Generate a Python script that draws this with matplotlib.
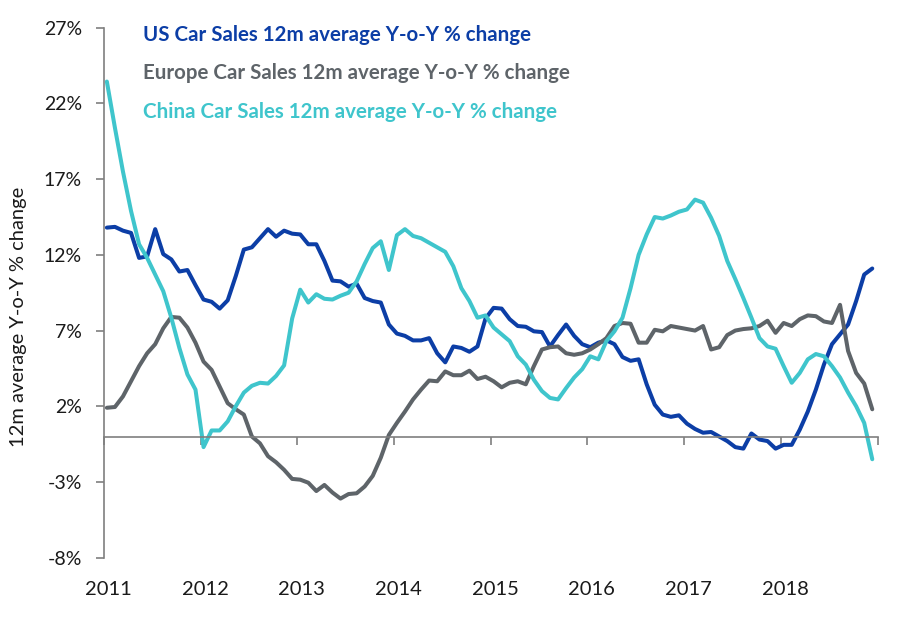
import numpy as np
import matplotlib
matplotlib.use("Agg")
import matplotlib.pyplot as plt
from matplotlib.ticker import FuncFormatter

# monthly, Jan 2011 .. Dec 2018 (12m average y-o-y % change)
years = ['2011', '2012', '2013', '2014', '2015', '2016', '2017', '2018']

us = [13.8, 13.85, 13.6, 13.45, 11.8, 11.9, 13.7, 12.05, 11.7, 10.9, 11.0, 10.0,
      9.05, 8.9, 8.45, 9.0, 10.6, 12.35, 12.5, 13.1, 13.7, 13.2, 13.6, 13.4,
      13.35, 12.7, 12.7, 11.6, 10.3, 10.25, 9.9, 10.1, 9.15, 8.95, 8.85, 7.4,
      6.8, 6.65, 6.35, 6.35, 6.5, 5.5, 4.9, 5.95, 5.85, 5.6, 5.95, 7.8,
      8.5, 8.45, 7.75, 7.3, 7.25, 6.95, 6.9, 5.95, 6.7, 7.4, 6.65, 6.1,
      5.9, 6.2, 6.35, 6.1, 5.25, 5.0, 5.1, 3.45, 2.1, 1.45, 1.3, 1.4,
      0.85, 0.5, 0.25, 0.3, 0.0, -0.3, -0.7, -0.8, 0.2, -0.2, -0.3, -0.8,
      -0.55, -0.55, 0.45, 1.65, 3.1, 4.75, 6.1, 6.75, 7.4, 8.95, 10.7, 11.1]

europe = [1.9, 1.95, 2.65, 3.65, 4.65, 5.5, 6.1, 7.15, 7.9, 7.85, 7.2, 6.2,
          4.95, 4.4, 3.3, 2.2, 1.8, 1.45, 0.0, -0.45, -1.3, -1.7, -2.2, -2.8,
          -2.85, -3.05, -3.6, -3.2, -3.7, -4.1, -3.8, -3.75, -3.3, -2.6, -1.4, 0.1,
          0.9, 1.65, 2.45, 3.1, 3.7, 3.65, 4.3, 4.05, 4.05, 4.35, 3.8, 3.95,
          3.65, 3.25, 3.55, 3.65, 3.45, 4.65, 5.75, 5.9, 5.95, 5.5, 5.4, 5.5,
          5.75, 6.1, 6.5, 7.3, 7.5, 7.45, 6.2, 6.2, 7.05, 6.95, 7.3, 7.2,
          7.1, 7.0, 7.3, 5.75, 5.9, 6.7, 7.0, 7.1, 7.15, 7.3, 7.65, 6.85,
          7.5, 7.3, 7.75, 8.0, 7.95, 7.6, 7.5, 8.7, 5.65, 4.2, 3.5, 1.8]

china = [23.45, 20.4, 17.5, 14.9, 12.7, 11.8, 10.7, 9.6, 7.85, 5.85, 4.1, 3.1,
         -0.7, 0.4, 0.4, 1.0, 2.0, 2.9, 3.35, 3.55, 3.5, 4.0, 4.7, 7.8,
         9.7, 8.85, 9.4, 9.1, 9.05, 9.3, 9.5, 10.25, 11.4, 12.45, 12.9, 11.0,
         13.3, 13.7, 13.25, 13.1, 12.8, 12.5, 12.2, 11.25, 9.8, 8.95, 7.85, 8.0,
         7.2, 6.75, 6.3, 5.3, 4.75, 3.75, 3.0, 2.55, 2.45, 3.2, 3.9, 4.45,
         5.3, 5.1, 6.3, 6.95, 7.85, 9.8, 12.0, 13.35, 14.5, 14.4, 14.6, 14.85,
         15.0, 15.65, 15.45, 14.45, 13.25, 11.6, 10.4, 9.15, 7.85, 6.5, 5.95, 5.8,
         4.65, 3.55, 4.2, 5.1, 5.45, 5.3, 4.65, 3.9, 2.9, 2.0, 0.9, -1.5]

US_COL = '#0C3EA6'
EU_COL = '#5E6469'
CN_COL = '#3FC5CC'
AXIS_COL = '#7F7F7F'
TXT_COL = '#1a1a1a'

plt.rcParams['font.family'] = ['Lato', 'DejaVu Sans']

fig = plt.figure(figsize=(9, 6.18), dpi=100)
ax = fig.add_axes([0.1156, 0.0977, 0.8594, 0.8573])

x = np.arange(len(us))
ax.plot(x, us, color=US_COL, lw=2.9, solid_capstyle='round',
        label='US Car Sales 12m average Y-o-Y % change')
ax.plot(x, europe, color=EU_COL, lw=2.9, solid_capstyle='round',
        label='Europe Car Sales 12m average Y-o-Y % change')
ax.plot(x, china, color=CN_COL, lw=2.9, solid_capstyle='round',
        label='China Car Sales 12m average Y-o-Y % change')

ax.set_ylim(-8, 27)
ax.set_yticks(np.arange(-8, 28, 5))
ax.yaxis.set_major_formatter(FuncFormatter(lambda v, p: '%d%%' % v))
ax.set_xlim(-0.35, 95.65)

for s in ['top', 'right']:
    ax.spines[s].set_visible(False)
ax.spines['left'].set_color(AXIS_COL)
ax.spines['left'].set_linewidth(1.2)
ax.spines['bottom'].set_position(('data', 0))
ax.spines['bottom'].set_color(AXIS_COL)
ax.spines['bottom'].set_linewidth(1.2)

# year boundary ticks on the zero line, labels along the bottom
ax.set_xticks(np.arange(-0.35, 96, 12))
ax.tick_params(axis='x', direction='out', length=6, width=1.2, color=AXIS_COL,
               labelbottom=False)
ax.tick_params(axis='y', direction='out', length=6, width=1.2, color=AXIS_COL,
               labelsize=14, labelcolor=TXT_COL, pad=10)

sec = ax.secondary_xaxis('bottom')
sec.set_xticks(np.arange(len(years)) * 12 + 0.2, years)
sec.tick_params(length=0, pad=17, labelsize=14.5, labelcolor=TXT_COL)
sec.spines['bottom'].set_visible(False)

ax.set_ylabel('12m average Y-o-Y % change', fontsize=14.5, color=TXT_COL)
ax.yaxis.set_label_coords(-0.1, 0.455)

leg = ax.legend(loc='upper left', bbox_to_anchor=(0.05, 1.006), frameon=False,
                handlelength=0, handletextpad=0, borderpad=0, borderaxespad=0,
                labelspacing=0.9, labelcolor='linecolor',
                prop={'family': 'Lato', 'weight': 'bold', 'size': 14.8})
for h in leg.legend_handles:
    h.set_visible(False)

fig.savefig('out.png', dpi=100)
